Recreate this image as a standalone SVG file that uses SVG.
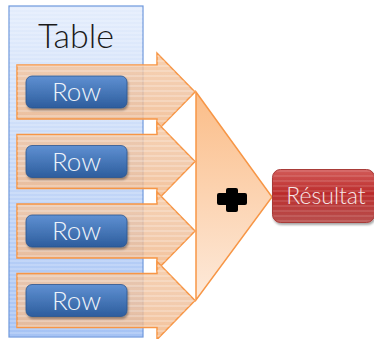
<svg xmlns="http://www.w3.org/2000/svg" width="374" height="339" viewBox="0 0 374 339">
<defs>
<linearGradient id="gTable" x1="0" y1="0" x2="0" y2="1">
<stop offset="0" stop-color="#e4edfc"/>
<stop offset="1" stop-color="#a6c3f4"/>
</linearGradient>
<pattern id="pStripe" width="10" height="4" patternUnits="userSpaceOnUse">
<rect width="10" height="2" fill="#ffffff" fill-opacity="0.18"/>
</pattern>
<pattern id="pStripeA" width="10" height="5" patternUnits="userSpaceOnUse">
<rect width="10" height="2" fill="#ffffff" fill-opacity="0.22"/>
</pattern>
<linearGradient id="gArrow" x1="0" y1="0" x2="0" y2="1">
<stop offset="0" stop-color="#f6c59c"/>
<stop offset="0.5" stop-color="#efc19e"/>
<stop offset="1" stop-color="#f3b582"/>
</linearGradient>
<linearGradient id="gRow" x1="0" y1="0" x2="0" y2="1">
<stop offset="0" stop-color="#5f90d2"/>
<stop offset="1" stop-color="#2d5d9d"/>
</linearGradient>
<linearGradient id="gTri" x1="0" y1="0" x2="0" y2="1">
<stop offset="0" stop-color="#fbbd88"/>
<stop offset="1" stop-color="#fdeadb"/>
</linearGradient>
<linearGradient id="gRes" x1="0" y1="0" x2="0" y2="1">
<stop offset="0" stop-color="#d25b58"/>
<stop offset="0.45" stop-color="#bb2c2c"/>
<stop offset="1" stop-color="#b8504e"/>
</linearGradient>
<filter id="shadow" x="-10%" y="-10%" width="130%" height="140%">
<feDropShadow dx="1" dy="2" stdDeviation="1.2" flood-color="#000" flood-opacity="0.35"/>
</filter>
</defs>
<style>
.arrow{fill:url(#gArrow);fill-opacity:0.82;stroke:#f79646;stroke-width:1.5}
.astripe{fill:url(#pStripeA);stroke:none}
.rowbtn{fill:url(#gRow);stroke:#2b568f;stroke-width:0.8;filter:url(#shadow)}
.rowtxt{font-family:Lato,"Liberation Sans",sans-serif;font-weight:300;font-size:26px;fill:#eef3fa;text-anchor:middle}
</style>
<g id="table">
<rect x="9" y="6" width="134" height="331" fill="url(#gTable)" stroke="#6e98dc" stroke-width="1.2"/>
<rect x="9.6" y="6.6" width="132.8" height="329.8" fill="url(#pStripe)"/>
<text x="76" y="48" font-family="Lato,'Liberation Sans',sans-serif" font-weight="300" font-size="34" fill="#1a1a1a" text-anchor="middle">Table</text>
</g>
<g id="connectors">
<path class="arrow" d="M17,65 H157 V53 L195,92 L157,131 V119 H17 Z"/>
<path class="astripe" d="M17,65 H157 V53 L195,92 L157,131 V119 H17 Z"/>
<path class="arrow" d="M17,134.5 H157 V122.5 L195,161.5 L157,200.5 V188.5 H17 Z"/>
<path class="astripe" d="M17,134.5 H157 V122.5 L195,161.5 L157,200.5 V188.5 H17 Z"/>
<path class="arrow" d="M17,204 H157 V192 L195,231 L157,270 V258 H17 Z"/>
<path class="astripe" d="M17,204 H157 V192 L195,231 L157,270 V258 H17 Z"/>
<path class="arrow" d="M17,273.5 H157 V261.5 L195,300.5 L157,339.5 V327.5 H17 Z"/>
<path class="astripe" d="M17,273.5 H157 V261.5 L195,300.5 L157,339.5 V327.5 H17 Z"/>
</g>
<g id="row1">
<rect class="rowbtn" x="26" y="76" width="101" height="32" rx="6"/>
<text class="rowtxt" x="76.5" y="101">Row</text>
</g>
<g id="row2">
<rect class="rowbtn" x="26" y="145.5" width="101" height="32" rx="6"/>
<text class="rowtxt" x="76.5" y="170.5">Row</text>
</g>
<g id="row3">
<rect class="rowbtn" x="26" y="215" width="101" height="32" rx="6"/>
<text class="rowtxt" x="76.5" y="240">Row</text>
</g>
<g id="row4">
<rect class="rowbtn" x="26" y="284.5" width="101" height="32" rx="6"/>
<text class="rowtxt" x="76.5" y="309.5">Row</text>
</g>
<g id="combine">
<path d="M196,92 L272,197 L196,300 Z" fill="url(#gTri)" stroke="#f79646" stroke-width="1.5" stroke-linejoin="miter"/>
<path d="M228,190 H236 V195 H245 V203 H236 V210 H228 V203 H219 V195 H228 Z" fill="#000" stroke="#000" stroke-width="4" stroke-linejoin="round"/>
</g>
<g id="result">
<rect x="272.5" y="169.5" width="102" height="53" rx="8" fill="url(#gRes)" stroke="#a83a38" stroke-width="1" filter="url(#shadow)"/>
<rect x="273" y="170" width="101" height="52" rx="8" fill="url(#pStripeA)" fill-opacity="0.5"/>
<text x="326" y="204" font-family="Lato,'Liberation Sans',sans-serif" font-weight="300" font-size="23" fill="#f6e6e6" text-anchor="middle">Résultat</text>
</g>
</svg>
